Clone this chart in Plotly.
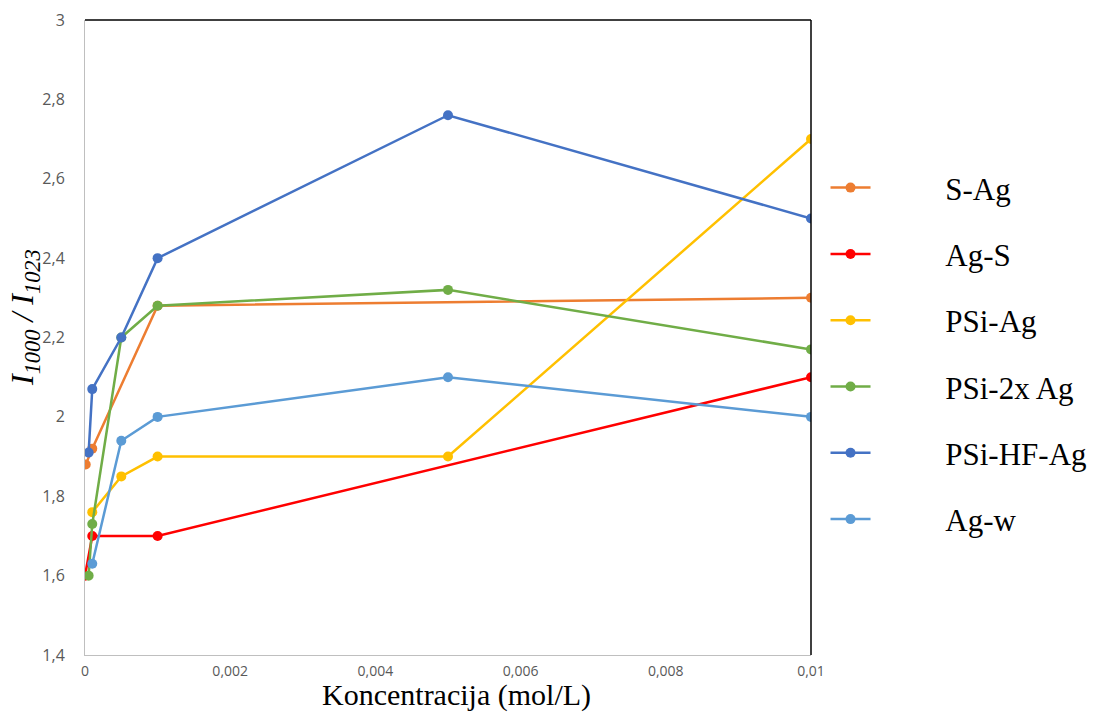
import plotly.graph_objects as go

# Data (concentration in mol/L, ratio I1000/I1023)
s_ag_x = [0.00001, 0.0001, 0.001, 0.01]
s_ag_y = [1.88, 1.92, 2.28, 2.30]

ag_s_x = [0.0, 0.0001, 0.001, 0.01]
ag_s_y = [1.60, 1.70, 1.70, 2.10]

psi_ag_x = [0.0001, 0.0005, 0.001, 0.005, 0.01]
psi_ag_y = [1.76, 1.85, 1.90, 1.90, 2.70]

psi_2x_x = [0.00005, 0.0001, 0.0005, 0.001, 0.005, 0.01]
psi_2x_y = [1.60, 1.73, 2.20, 2.28, 2.32, 2.17]

psi_hf_x = [0.00005, 0.0001, 0.0005, 0.001, 0.005, 0.01]
psi_hf_y = [1.91, 2.07, 2.20, 2.40, 2.76, 2.50]

ag_w_x = [0.0001, 0.0005, 0.001, 0.005, 0.01]
ag_w_y = [1.63, 1.94, 2.00, 2.10, 2.00]

series_names = ["S-Ag", "Ag-S", "PSi-Ag", "PSi-2x Ag", "PSi-HF-Ag", "Ag-w"]
series_x = [s_ag_x, ag_s_x, psi_ag_x, psi_2x_x, psi_hf_x, ag_w_x]
series_y = [s_ag_y, ag_s_y, psi_ag_y, psi_2x_y, psi_hf_y, ag_w_y]
series_colors = ["#ED7D31", "#FF0000", "#FFC000", "#70AD47", "#4472C4", "#5B9BD5"]

pad = "\u00a0" * 9

fig = go.Figure()
for i, (name, xs, ys, col) in enumerate(zip(series_names, series_x, series_y, series_colors)):
    fig.add_trace(go.Scatter(
        x=xs, y=ys, name=pad + name, mode="lines+markers",
        line=dict(color=col, width=2.5),
        marker=dict(color=col, size=10),
        legendgroup=f"g{i}",
    ))

fig.update_layout(
    width=1097, height=713,
    margin=dict(l=85, r=286, t=20, b=58, autoexpand=False),
    paper_bgcolor="white", plot_bgcolor="white",
    separators=", ",
    showlegend=True,
    legend=dict(
        x=1.02, y=0.778, xanchor="left", yanchor="top",
        font=dict(family="Liberation Serif", size=31, color="black"),
        itemwidth=40, tracegroupgap=23,
        bgcolor="rgba(0,0,0,0)",
    ),
    xaxis=dict(
        range=[0, 0.01], dtick=0.002, tick0=0,
        showgrid=False, zeroline=False, automargin=False,
        showline=True, linecolor="#BFBFBF", linewidth=1,
        ticks="", ticklabelstandoff=3,
        tickfont=dict(family="Open Sans", size=14, color="#595959"),
    ),
    yaxis=dict(
        range=[1.4, 3.0], dtick=0.2, tick0=1.4,
        showgrid=False, zeroline=False, automargin=False,
        showline=True, linecolor="#BFBFBF", linewidth=1,
        ticks="", ticklabelstandoff=16,
        tickfont=dict(family="Open Sans", size=16, color="#595959"),
    ),
    annotations=[
        dict(text="Koncentracija (mol/L)", xref="paper", yref="paper",
             x=(457 - 85) / 726, y=-(713 - 655) / 635, xanchor="center", yanchor="bottom",
             showarrow=False, borderpad=0,
             font=dict(family="Liberation Serif", size=30, color="black")),
        dict(text="<i>I<sub>1000</sub> / I<sub>1023</sub></i>", xref="paper", yref="paper",
             x=(24 - 85) / 726, y=(655 - 318) / 635, xanchor="center", yanchor="middle",
             textangle=-90, showarrow=False,
             font=dict(family="Liberation Serif", size=32, color="black")),
    ],
    shapes=[
        dict(type="line", xref="x domain", yref="y domain", x0=0, x1=1, y0=1, y1=1,
             line=dict(color="black", width=1.5)),
        dict(type="line", xref="x domain", yref="y domain", x0=1, x1=1, y0=0, y1=1,
             line=dict(color="black", width=1.5)),
    ],
)

fig.write_html("out.html")
